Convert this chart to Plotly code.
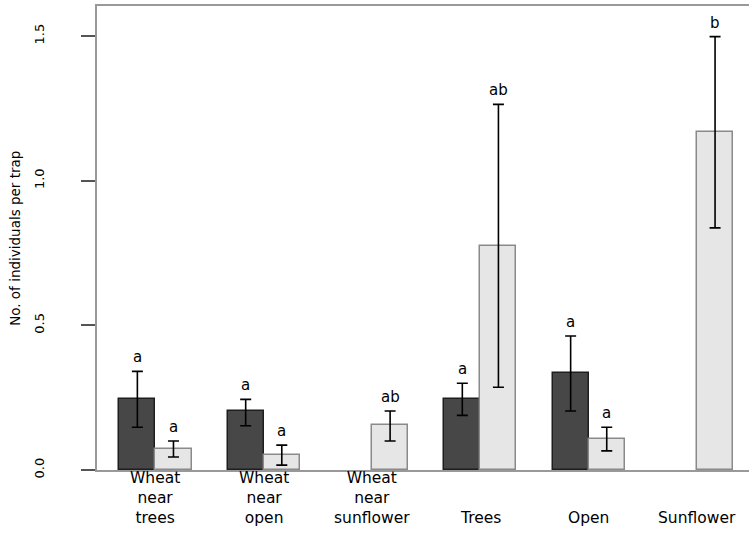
import plotly.graph_objects as go

categories = ["Wheat<br>near<br>trees", "Wheat<br>near<br>open", "Wheat<br>near<br>sunflower",
              "Trees", "Open", "Sunflower"]

# dark series (first bar of each pair)
dark_mean = [0.245, 0.204, None, 0.245, 0.334, None]
dark_upper = [0.341, 0.244, None, 0.300, 0.463, None]
dark_lower = [0.148, 0.153, None, 0.189, 0.204, None]
dark_letters = ["a", "a", "", "a", "a", ""]

# light series (second bar of each pair)
light_mean = [0.074, 0.052, 0.156, 0.774, 0.107, 1.167]
light_upper = [0.100, 0.086, 0.204, 1.264, 0.148, 1.498]
light_lower = [0.045, 0.017, 0.100, 0.286, 0.066, 0.837]
light_letters = ["a", "a", "ab", "ab", "a", "b"]

ytick_vals = [0.0, 0.5, 1.0, 1.5]
ytick_text = ["0.0", "0.5", "1.0", "1.5"]

n = len(categories)
x_dark = [3 * i + 1.5 for i in range(n)]
x_light = [3 * i + 2.5 for i in range(n)]
x_center = [3 * i + 2 for i in range(n)]


def err(mean, bound, up):
    out = []
    for m, b in zip(mean, bound):
        if m is None:
            out.append(None)
        else:
            out.append((b - m) if up else (m - b))
    return out


fig = go.Figure()
fig.add_trace(go.Bar(
    x=x_dark, y=dark_mean, width=1,
    marker=dict(color="#474747", line=dict(color="#1e1e1e", width=1.5)),
    error_y=dict(type="data", symmetric=False,
                 array=err(dark_mean, dark_upper, True),
                 arrayminus=err(dark_mean, dark_lower, False),
                 color="#000000", thickness=1.6, width=5.5),
    showlegend=False, hoverinfo="skip"))
fig.add_trace(go.Bar(
    x=x_light, y=light_mean, width=1,
    marker=dict(color="#e6e6e6", line=dict(color="#8a8a8a", width=1.5)),
    error_y=dict(type="data", symmetric=False,
                 array=err(light_mean, light_upper, True),
                 arrayminus=err(light_mean, light_lower, False),
                 color="#000000", thickness=1.6, width=5.5),
    showlegend=False, hoverinfo="skip"))

annotations = []
for xs, ups, letters in ((x_dark, dark_upper, dark_letters), (x_light, light_upper, light_letters)):
    for xv, u, t in zip(xs, ups, letters):
        if u is None or not t:
            continue
        annotations.append(dict(x=xv, y=u, xref="x", yref="y", text=t, showarrow=False,
                                yanchor="bottom", yshift=3,
                                font=dict(family="DejaVu Sans", size=15, color="#000000")))
for xv, t in zip(x_center, categories):
    annotations.append(dict(x=xv, y=0, xref="x", yref="paper", text=t, showarrow=False,
                            yanchor="bottom", yshift=-59, align="center",
                            font=dict(family="DejaVu Sans", size=15.5, color="#000000")))
annotations.append(dict(x=-0.126, y=0.5, xref="paper", yref="paper", xanchor="center",
                        yanchor="middle",
                        text="No. of individuals per trap", showarrow=False, textangle=-90,
                        font=dict(family="DejaVu Sans", size=13.5, color="#000000")))

fig.update_layout(
    width=749, height=533,
    margin=dict(l=97, r=0, t=6, b=63),
    plot_bgcolor="white", paper_bgcolor="white",
    barmode="overlay", bargap=0,
    annotations=annotations,
    xaxis=dict(range=[0.382, 18.44], showgrid=False, zeroline=False, showticklabels=False,
               ticks="", showline=True, linecolor="#999999", linewidth=2, mirror=True),
    yaxis=dict(range=[0, 1.604], showgrid=False, zeroline=False,
               tickvals=ytick_vals, ticktext=ytick_text, ticks="outside", ticklen=14,
               tickcolor="#555555", tickwidth=1.5, tickangle=-90,
               ticklabelstandoff=32,
               tickfont=dict(family="DejaVu Sans", size=13, color="#000000"),
               showline=True, linecolor="#999999", linewidth=2),
)

fig.write_html("out.html", config={"displayModeBar": False},
               post_script="document.body.style.margin='0';")
